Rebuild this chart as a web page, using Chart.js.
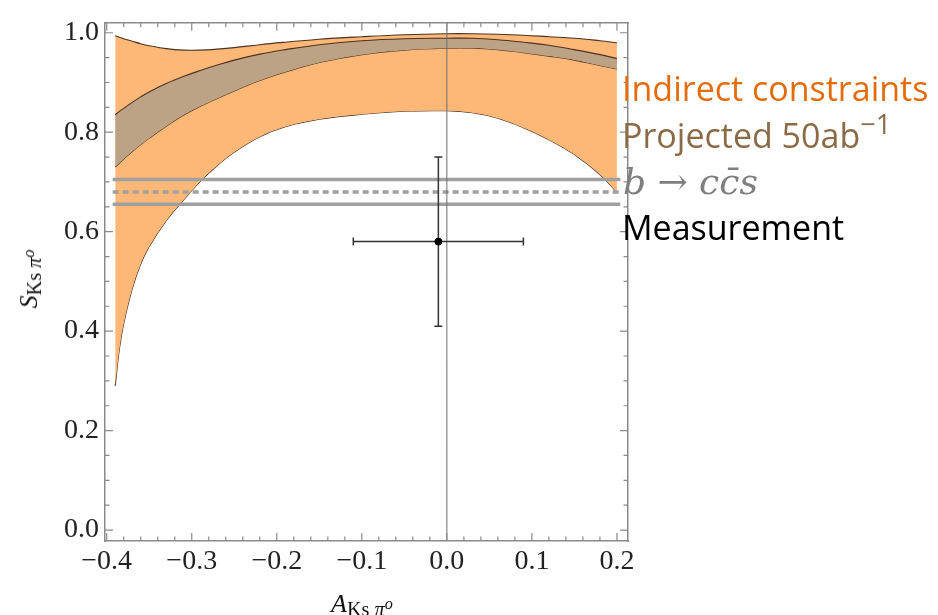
<!DOCTYPE html>
<html>
<head>
<meta charset="utf-8">
<script src="https://cdn.jsdelivr.net/npm/chart.js@4.4.1/dist/chart.umd.min.js"></script>
<style>
  body { margin: 0; background: #fff; }
  #wrap { position: relative; width: 938px; height: 615px; overflow: hidden; }
  #c { position: absolute; left: 0; top: 0; }
  .txt { position: absolute; white-space: nowrap; }
  .leg { font-family: 'Open Sans', sans-serif; font-size: 34px; line-height: 34px; }
  .axt { font-family: 'Liberation Serif', serif; font-size: 26px; line-height: 26px; color: #111; }
  .axt sub { font-size: 0.78em; line-height: 0; vertical-align: -0.22em; }
  .axt sup { font-size: 0.8em; line-height: 0; vertical-align: 0.45em; }
  .leg sup { font-size: 0.8em; line-height: 0; vertical-align: 0.5em; }
</style>
</head>
<body>
<div id="wrap">
  <canvas id="c" width="938" height="615"></canvas>
  <div class="txt axt" style="left:29px; top:279px; transform:translate(-50%,-50%) rotate(-90deg);"><i>S</i><sub>Ks <i>π</i><sup><i>o</i></sup></sub></div>
  <div class="txt axt" style="left:331px; top:591px;"><i>A</i><sub>Ks <i>π</i><sup><i>o</i></sup></sub></div>
  <div class="txt leg" style="left:622px; top:71px; color:#E46C0A;">Indirect constraints</div>
  <div class="txt leg" style="left:622px; top:118px; color:#8B6A46;">Projected 50ab<sup>−1</sup></div>
  <div class="txt" style="left:623px; top:164px; color:#7F7F7F; font-family:'DejaVu Serif', serif; font-size:36px; line-height:36px;"><i>b</i> → <i>c</i><i>c̄</i><i>s</i></div>
  <div class="txt leg" style="left:622px; top:210px; color:#000;">Measurement</div>
</div>
<script>
// axis ranges and ticks
const xRange = [-0.402, 0.213];
const yRange = [-0.022, 1.02];
const xTickVals = [-0.4, -0.3, -0.2, -0.1, 0.0, 0.1, 0.2];
const yTickVals = [0.0, 0.2, 0.4, 0.6, 0.8, 1.0];
const xMinorVals = [-0.38, -0.36, -0.34, -0.32, -0.28, -0.26, -0.24, -0.22, -0.18, -0.16, -0.14, -0.12,
  -0.08, -0.06, -0.04, -0.02, 0.02, 0.04, 0.06, 0.08, 0.12, 0.14, 0.16, 0.18];
const yMinorVals = [0.05, 0.1, 0.15, 0.25, 0.3, 0.35, 0.45, 0.5, 0.55, 0.65, 0.7, 0.75, 0.85, 0.9, 0.95];

const aGrid = [-0.39, -0.385, -0.38, -0.37, -0.36, -0.35, -0.33, -0.31, -0.29, -0.27, -0.25, -0.22,
  -0.19, -0.15, -0.10, -0.05, 0.00, 0.03, 0.06, 0.09, 0.12, 0.15, 0.18, 0.20];

// indirect constraints (orange band)
const indirectHigh = [0.994, 0.991, 0.988, 0.983, 0.978, 0.974, 0.968, 0.965, 0.965, 0.967, 0.970, 0.976,
  0.981, 0.987, 0.992, 0.996, 0.998, 0.998, 0.997, 0.995, 0.992, 0.989, 0.984, 0.980];
const indirectLow = [0.290, 0.365, 0.415, 0.485, 0.535, 0.570, 0.622, 0.663, 0.701, 0.733, 0.760, 0.791,
  0.811, 0.826, 0.836, 0.842, 0.843, 0.839, 0.828, 0.809, 0.785, 0.755, 0.715, 0.679];

// projected 50 ab^-1 (brown band)
const projHigh = [0.835, 0.842, 0.848, 0.860, 0.871, 0.881, 0.898, 0.912, 0.924, 0.935, 0.945, 0.957,
  0.966, 0.976, 0.984, 0.988, 0.989, 0.989, 0.986, 0.981, 0.975, 0.966, 0.956, 0.948];
const projLow = [0.730, 0.738, 0.746, 0.761, 0.775, 0.788, 0.812, 0.834, 0.852, 0.868, 0.883, 0.904,
  0.921, 0.940, 0.956, 0.965, 0.969, 0.969, 0.966, 0.960, 0.953, 0.945, 0.934, 0.927];

// b -> c cbar s
const ccsSpan = [-0.393, 0.204];
const ccsCentral = 0.680;
const ccsHigh = 0.705;
const ccsLow = 0.655;

// measurement
const measA = -0.01, measAErr = 0.10;
const measS = 0.58, measSErr = 0.17;

const frameColor = '#8a8a8a';
const edgeColor = '#4d3320';

function toXY(xs, ys) {
  return xs.map((x, i) => ({ x: x, y: ys[i] }));
}

function flat(v) {
  return [{ x: ccsSpan[0], y: v }, { x: ccsSpan[1], y: v }];
}

function fmt(v) {
  return (v < -1e-9 ? '\u2212' : '') + Math.abs(v).toFixed(1);
}

const curve = {
  borderColor: edgeColor,
  borderWidth: 1.1,
  pointRadius: 0,
  tension: 0.4
};

const datasets = [
  { // central value
    data: [{ x: measA, y: measS }],
    showLine: false, pointRadius: 3.5, pointBackgroundColor: '#000', pointBorderColor: '#000'
  },
  { // A error bar
    data: [{ x: measA - measAErr, y: measS }, { x: measA + measAErr, y: measS }],
    borderColor: '#333', borderWidth: 1.5,
    pointStyle: 'line', pointRadius: 4, pointRotation: 90, pointBorderColor: '#333', pointBorderWidth: 1.5
  },
  { // S error bar
    data: [{ x: measA, y: measS - measSErr }, { x: measA, y: measS + measSErr }],
    borderColor: '#333', borderWidth: 1.5,
    pointStyle: 'line', pointRadius: 4, pointRotation: 0, pointBorderColor: '#333', pointBorderWidth: 1.5
  },
  { // A = 0 line
    data: [{ x: 0, y: yRange[0] }, { x: 0, y: yRange[1] }],
    borderColor: '#6e6e6e', borderWidth: 1, pointRadius: 0
  },
  { data: flat(ccsHigh), borderColor: '#a0a0a0', borderWidth: 3.5, pointRadius: 0 },
  { data: flat(ccsCentral), borderColor: '#a0a0a0', borderWidth: 3.5, borderDash: [6, 4], pointRadius: 0 },
  { data: flat(ccsLow), borderColor: '#a0a0a0', borderWidth: 3.5, pointRadius: 0 },
  Object.assign({ data: toXY(aGrid, projHigh), fill: '+1', backgroundColor: '#BDA386' }, curve),
  Object.assign({ data: toXY(aGrid, projLow), fill: false }, curve),
  Object.assign({ data: toXY(aGrid, indirectHigh), fill: '+1', backgroundColor: '#FDB776' }, curve),
  Object.assign({ data: toXY(aGrid, indirectLow), fill: false }, curve)
];

// inward tick marks on all four sides of the frame
const frameTicks = {
  id: 'frameTicks',
  afterDatasetsDraw(chart) {
    const { ctx, chartArea: a, scales } = chart;
    ctx.save();
    ctx.strokeStyle = frameColor;
    ctx.lineWidth = 1.2;
    const mark = (vals, len) => {
      vals.forEach(v => {
        const px = scales.x.getPixelForValue(v);
        ctx.beginPath();
        ctx.moveTo(px, a.bottom); ctx.lineTo(px, a.bottom - len);
        ctx.moveTo(px, a.top); ctx.lineTo(px, a.top + len);
        ctx.stroke();
      });
    };
    const markY = (vals, len) => {
      vals.forEach(v => {
        const py = scales.y.getPixelForValue(v);
        ctx.beginPath();
        ctx.moveTo(a.left, py); ctx.lineTo(a.left + len, py);
        ctx.moveTo(a.right, py); ctx.lineTo(a.right - len, py);
        ctx.stroke();
      });
    };
    mark(xTickVals, 8);
    mark(xMinorVals, 4.5);
    markY(yTickVals, 8);
    markY(yMinorVals, 4.5);
    ctx.restore();
  }
};

function frameScale(pos, range) {
  return {
    type: 'linear',
    position: pos,
    min: range[0],
    max: range[1],
    grid: { display: false, drawTicks: false },
    border: { display: true, color: frameColor, width: 1.5 }
  };
}

const tickFont = { family: 'Liberation Serif', size: 28 };

new Chart(document.getElementById('c'), {
  type: 'line',
  data: { datasets: datasets },
  options: {
    responsive: false,
    animation: false,
    devicePixelRatio: 1,
    layout: { padding: 0 },
    plugins: {
      legend: { display: false },
      tooltip: { enabled: false }
    },
    scales: {
      x: Object.assign(frameScale('bottom', xRange), {
        afterBuildTicks: s => { s.ticks = xTickVals.map(v => ({ value: v })); },
        afterFit: s => { s.height = 74; },
        ticks: { font: tickFont, color: '#222', padding: 4, maxRotation: 0, autoSkip: false, callback: fmt }
      }),
      x2: Object.assign(frameScale('top', xRange), {
        ticks: { display: false },
        afterFit: s => { s.height = 17; }
      }),
      y: Object.assign(frameScale('left', yRange), {
        afterBuildTicks: s => { s.ticks = yTickVals.map(v => ({ value: v })); },
        afterFit: s => { s.width = 105; },
        ticks: { font: tickFont, color: '#222', padding: 6, autoSkip: false, callback: fmt }
      }),
      y2: Object.assign(frameScale('right', yRange), {
        ticks: { display: false },
        afterFit: s => { s.width = 310; }
      })
    }
  },
  plugins: [frameTicks]
});
</script>
</body>
</html>
